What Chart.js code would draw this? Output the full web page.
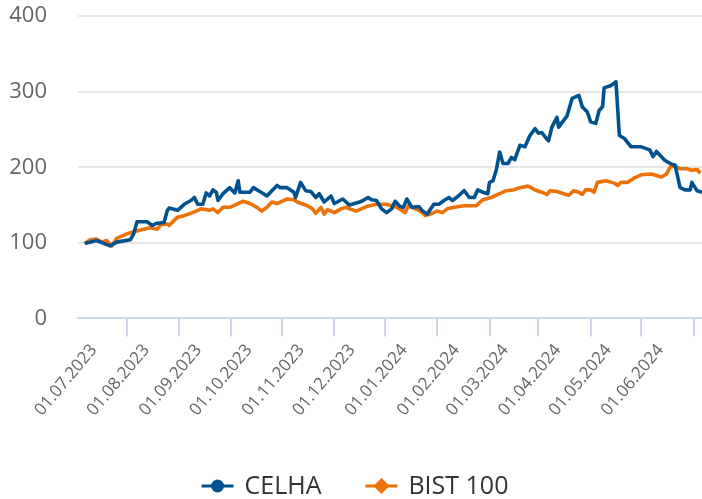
<!DOCTYPE html>
<html>
<head>
<meta charset="utf-8">
<script src="https://cdn.jsdelivr.net/npm/chart.js@4.4.1/dist/chart.umd.min.js"></script>
<style>
  html, body { margin: 0; padding: 0; background: #fff; }
  #chart { display: block; }
</style>
</head>
<body>
<canvas id="chart" width="702" height="499"></canvas>
<script>
// CELHA vs BIST 100, rebased to 100
const celhaDates = [
  '2023-06-06', '2023-06-13', '2023-06-21', '2023-06-25', '2023-07-03', '2023-07-05', '2023-07-07', '2023-07-13',
  '2023-07-16', '2023-07-19', '2023-07-23', '2023-07-25', '2023-07-26', '2023-07-31', '2023-08-04', '2023-08-08',
  '2023-08-10', '2023-08-12', '2023-08-15', '2023-08-17', '2023-08-19', '2023-08-21', '2023-08-23', '2023-08-24',
  '2023-08-27', '2023-08-31', '2023-09-03', '2023-09-05', '2023-09-06', '2023-09-12', '2023-09-14', '2023-09-20',
  '2023-09-22', '2023-09-28', '2023-09-30', '2023-10-04', '2023-10-08', '2023-10-09', '2023-10-12', '2023-10-15',
  '2023-10-18', '2023-10-21', '2023-10-23', '2023-10-26', '2023-10-30', '2023-11-01', '2023-11-06', '2023-11-10',
  '2023-11-16', '2023-11-18', '2023-11-21', '2023-11-23', '2023-11-26', '2023-11-29', '2023-12-02', '2023-12-05',
  '2023-12-07', '2023-12-10', '2023-12-12', '2023-12-14', '2023-12-17', '2023-12-21', '2023-12-23', '2023-12-26',
  '2023-12-30', '2024-01-02', '2024-01-05', '2024-01-08', '2024-01-10', '2024-01-13', '2024-01-17', '2024-01-20',
  '2024-01-23', '2024-01-25', '2024-01-28', '2024-01-31', '2024-02-01', '2024-02-03', '2024-02-05', '2024-02-07',
  '2024-02-09', '2024-02-12', '2024-02-14', '2024-02-16', '2024-02-19', '2024-02-22', '2024-02-25', '2024-02-28',
  '2024-03-01', '2024-03-03', '2024-03-05', '2024-03-07', '2024-03-09', '2024-03-12', '2024-03-13', '2024-03-18',
  '2024-03-21', '2024-03-25', '2024-03-27', '2024-03-30', '2024-04-01', '2024-04-04', '2024-04-06', '2024-04-08',
  '2024-04-09', '2024-04-13', '2024-04-16', '2024-04-18', '2024-04-21', '2024-04-25', '2024-05-01', '2024-05-06',
  '2024-05-08', '2024-05-10', '2024-05-15', '2024-05-19', '2024-05-21', '2024-05-24', '2024-05-27', '2024-05-30',
  '2024-05-31', '2024-06-03', '2024-06-06'
];
const celhaValues = [
  99, 103, 96, 101, 104, 112, 128, 128,
  123, 126, 127, 143, 146, 143, 151, 156,
  160, 151, 151, 166, 162, 170, 167, 156,
  165, 173, 166, 182, 167, 167, 173, 165,
  162, 176, 173, 173, 167, 160, 180, 169,
  168, 160, 165, 154, 162, 152, 158, 150,
  154, 156, 160, 157, 156, 145, 140, 145,
  155, 148, 147, 158, 147, 148, 143, 138,
  151, 151, 156, 160, 156, 161, 169, 160,
  160, 170, 167, 165, 180, 182, 196, 220,
  205, 205, 213, 210, 229, 227, 242, 251,
  245, 246, 240, 235, 253, 266, 253, 268,
  291, 295, 280, 273, 260, 258, 275, 280,
  305, 308, 313, 242, 238, 227, 227, 223,
  214, 221, 209, 204, 203, 173, 170, 170,
  180, 169, 167
];

const bistDates = [
  '2023-06-06', '2023-06-09', '2023-06-13', '2023-06-16', '2023-06-19', '2023-06-22', '2023-06-25', '2023-07-01',
  '2023-07-09', '2023-07-15', '2023-07-19', '2023-07-21', '2023-07-25', '2023-07-26', '2023-07-31', '2023-08-04',
  '2023-08-09', '2023-08-14', '2023-08-19', '2023-08-21', '2023-08-24', '2023-08-27', '2023-08-31', '2023-09-08',
  '2023-09-12', '2023-09-16', '2023-09-19', '2023-09-22', '2023-09-25', '2023-09-28', '2023-10-04', '2023-10-08',
  '2023-10-10', '2023-10-16', '2023-10-19', '2023-10-21', '2023-10-24', '2023-10-26', '2023-10-28', '2023-11-01',
  '2023-11-05', '2023-11-08', '2023-11-10', '2023-11-14', '2023-11-20', '2023-11-26', '2023-12-02', '2023-12-08',
  '2023-12-13', '2023-12-15', '2023-12-19', '2023-12-22', '2023-12-25', '2023-12-28', '2024-01-01', '2024-01-04',
  '2024-01-07', '2024-01-11', '2024-01-17', '2024-01-24', '2024-01-28', '2024-02-02', '2024-02-06', '2024-02-11',
  '2024-02-15', '2024-02-19', '2024-02-24', '2024-02-28', '2024-03-03', '2024-03-06', '2024-03-08', '2024-03-12',
  '2024-03-16', '2024-03-19', '2024-03-22', '2024-03-25', '2024-03-27', '2024-03-29', '2024-04-01', '2024-04-03',
  '2024-04-05', '2024-04-10', '2024-04-15', '2024-04-17', '2024-04-19', '2024-04-23', '2024-04-27', '2024-05-01',
  '2024-05-07', '2024-05-13', '2024-05-16', '2024-05-18', '2024-05-21', '2024-05-24', '2024-05-28', '2024-05-31',
  '2024-06-03', '2024-06-05'
];
const bistValues = [
  99, 104, 105, 101, 103, 96, 106, 112,
  117, 120, 118, 124, 125, 123, 134, 136,
  140, 145, 143, 145, 140, 147, 147, 155,
  152, 147, 142, 147, 154, 152, 158, 157,
  154, 149, 145, 139, 147, 138, 144, 140,
  145, 147, 145, 142, 148, 151, 151, 147,
  140, 149, 145, 142, 136, 138, 142, 140,
  145, 147, 149, 149, 157, 160, 164, 169,
  170, 173, 175, 170, 167, 164, 169, 168,
  165, 163, 169, 167, 164, 170, 170, 167,
  180, 182, 179, 176, 180, 180, 186, 190,
  191, 187, 191, 200, 202, 198, 198, 196,
  197, 192
];

const tickDates = [
  '2023-07-01', '2023-08-01', '2023-09-01', '2023-10-01', '2023-11-01', '2023-12-01',
  '2024-01-01', '2024-02-01', '2024-03-01', '2024-04-01', '2024-05-01', '2024-06-01'
];
const yTicks = [0, 100, 200, 300, 400];

const BLUE = '#00528e';
const ORANGE = '#ec7107';
const FONT = "'Open Sans', sans-serif";

function toPoints(dates, values) {
  return dates.map((d, i) => ({ x: Date.parse(d), y: values[i] }));
}

function fmtDate(ms) {
  const d = new Date(ms);
  const dd = String(d.getUTCDate()).padStart(2, '0');
  const mm = String(d.getUTCMonth() + 1).padStart(2, '0');
  return dd + '.' + mm + '.' + d.getUTCFullYear();
}

// legend drawn by hand: line + marker + label, centred under the chart
const bottomLegend = {
  id: 'bottomLegend',
  afterDraw(chart) {
    const ctx = chart.ctx;
    const y = 486;
    const gap = 44;
    ctx.save();
    ctx.font = '25px ' + FONT;
    ctx.textBaseline = 'middle';
    const items = chart.data.datasets.map((ds) => ({
      ds, w: 32 + 11 + ctx.measureText(ds.label).width,
    }));
    const total = items.reduce((s, it) => s + it.w, 0) + gap * (items.length - 1);
    let x = (chart.width - total) / 2 + 4;
    items.forEach((it) => {
      const color = it.ds.borderColor;
      ctx.strokeStyle = color;
      ctx.fillStyle = color;
      ctx.lineWidth = 3;
      ctx.beginPath();
      ctx.moveTo(x, y);
      ctx.lineTo(x + 32, y);
      ctx.stroke();
      ctx.beginPath();
      if (it.ds.pointStyle === 'rectRot') {
        ctx.moveTo(x + 16, y - 8);
        ctx.lineTo(x + 24, y);
        ctx.lineTo(x + 16, y + 8);
        ctx.lineTo(x + 8, y);
        ctx.closePath();
      } else {
        ctx.arc(x + 16, y, 6.5, 0, Math.PI * 2);
      }
      ctx.fill();
      ctx.fillStyle = '#333';
      ctx.fillText(it.ds.label, x + 43, y + 1);
      x += it.w + gap;
    });
    ctx.restore();
  },
};

new Chart(document.getElementById('chart').getContext('2d'), {
  type: 'line',
  data: {
    datasets: [
      {
        label: 'CELHA',
        data: toPoints(celhaDates, celhaValues),
        borderColor: BLUE,
        backgroundColor: BLUE,
        borderWidth: 3.6,
        pointRadius: 0,
        pointStyle: 'circle',
        tension: 0,
        borderJoinStyle: 'round',
      },
      {
        label: 'BIST 100',
        data: toPoints(bistDates, bistValues),
        borderColor: ORANGE,
        backgroundColor: ORANGE,
        borderWidth: 3.6,
        pointRadius: 0,
        pointStyle: 'rectRot',
        tension: 0,
        borderJoinStyle: 'round',
      },
    ],
  },
  plugins: [bottomLegend],
  options: {
    responsive: false,
    animation: false,
    layout: { padding: { left: 0, right: 0, top: 0, bottom: 75 } },
    plugins: {
      tooltip: { enabled: false },
      legend: { display: false },
    },
    scales: {
      x: {
        type: 'linear',
        min: Date.parse('2023-06-02'),
        max: Date.parse('2024-06-06'),
        afterBuildTicks: (scale) => {
          scale.ticks = tickDates.map((d) => ({ value: Date.parse(d) }));
        },
        afterFit: (scale) => {
          scale.paddingLeft = 0;
          scale.paddingRight = 0;
        },
        grid: {
          drawOnChartArea: false,
          drawTicks: true,
          tickLength: 18,
          color: '#ccd6eb',
          lineWidth: 2,
        },
        border: { display: true, color: '#ccd6eb', width: 2 },
        ticks: {
          autoSkip: false,
          minRotation: 50,
          maxRotation: 50,
          labelOffset: -33,
          padding: 4,
          color: '#666',
          font: { family: FONT, size: 17 },
          callback: (value) => fmtDate(value),
        },
      },
      y: {
        min: 0,
        max: 400,
        afterBuildTicks: (scale) => {
          scale.ticks = yTicks.map((v) => ({ value: v }));
        },
        afterFit: (scale) => {
          scale.width = 78;
          scale.paddingTop = 16;
          scale.paddingBottom = 0;
        },
        grid: { color: '#e6e6e6', lineWidth: 2, drawTicks: false },
        border: { display: false },
        ticks: {
          padding: 31,
          color: '#666',
          font: { family: FONT, size: 22 },
        },
      },
    },
  },
});
</script>
</body>
</html>
